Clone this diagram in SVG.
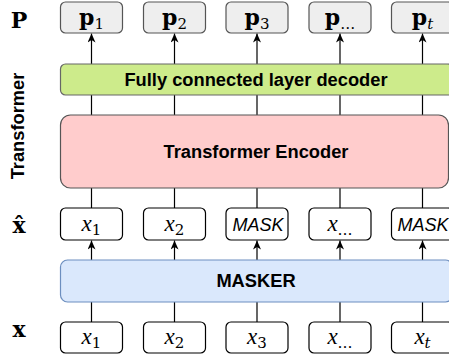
<svg xmlns="http://www.w3.org/2000/svg" width="449" height="358" viewBox="0 0 449 358">
<defs>
<style>
.pbox{fill:#eeeeee;stroke:#555555;stroke-width:1.2}
.xbox{fill:#ffffff;stroke:#000000;stroke-width:1.2}
.bar{stroke-width:1.2}
.bold{font-family:"Liberation Sans",Arial,sans-serif;font-weight:bold;font-size:18.3px;fill:#000;text-anchor:middle}
.math{font-family:"DejaVu Serif","Liberation Serif",serif;font-size:22px;fill:#000;text-anchor:middle}
.mb{font-weight:bold}
.mi{font-family:"Liberation Serif","DejaVu Serif",serif;font-style:italic;font-size:23px}
.sub{font-family:"DejaVu Serif","Liberation Serif",serif;font-style:normal;font-weight:normal;font-size:15px}
.mask{font-family:"Liberation Sans",Arial,sans-serif;font-style:italic;font-size:18px;fill:#000;text-anchor:middle}
.conn line{stroke:#000;stroke-width:1.2}
</style>
<marker id="arr" markerUnits="userSpaceOnUse" markerWidth="10" markerHeight="10" refX="9" refY="4" orient="auto">
<path d="M0,0 L9,4 L0,8 L2.5,4 Z" fill="#000"/>
</marker>
</defs>
<rect width="449" height="358" fill="#ffffff"/>

<g id="labels">
<text class="math mb" x="19" y="28" font-size="23">P</text>
<text class="bold" transform="translate(24,126) rotate(-90)" font-size="17.5">Transformer</text>
<text class="math mb" x="19" y="233">x̂</text>
<text class="math mb" x="19" y="337">x</text>
</g>

<g id="connectors" class="conn">
<line x1="91.5" y1="64" x2="91.5" y2="33.5" marker-end="url(#arr)"/>
<line x1="174.5" y1="64" x2="174.5" y2="33.5" marker-end="url(#arr)"/>
<line x1="257" y1="64" x2="257" y2="33.5" marker-end="url(#arr)"/>
<line x1="340" y1="64" x2="340" y2="33.5" marker-end="url(#arr)"/>
<line x1="422.5" y1="64" x2="422.5" y2="33.5" marker-end="url(#arr)"/>
<line x1="91.5" y1="115" x2="91.5" y2="95"/>
<line x1="174.5" y1="115" x2="174.5" y2="95"/>
<line x1="257" y1="115" x2="257" y2="95"/>
<line x1="340" y1="115" x2="340" y2="95"/>
<line x1="422.5" y1="115" x2="422.5" y2="95"/>
<line x1="91.5" y1="208" x2="91.5" y2="188"/>
<line x1="174.5" y1="208" x2="174.5" y2="188"/>
<line x1="257" y1="208" x2="257" y2="188"/>
<line x1="340" y1="208" x2="340" y2="188"/>
<line x1="422.5" y1="208" x2="422.5" y2="188"/>
<line x1="91.5" y1="260" x2="91.5" y2="240.5" marker-end="url(#arr)"/>
<line x1="174.5" y1="260" x2="174.5" y2="240.5" marker-end="url(#arr)"/>
<line x1="257" y1="260" x2="257" y2="240.5" marker-end="url(#arr)"/>
<line x1="340" y1="260" x2="340" y2="240.5" marker-end="url(#arr)"/>
<line x1="422.5" y1="260" x2="422.5" y2="240.5" marker-end="url(#arr)"/>
<line x1="91.5" y1="322" x2="91.5" y2="302"/>
<line x1="174.5" y1="322" x2="174.5" y2="302"/>
<line x1="257" y1="322" x2="257" y2="302"/>
<line x1="340" y1="322" x2="340" y2="302"/>
<line x1="422.5" y1="322" x2="422.5" y2="302"/>
</g>

<g id="p1"><rect class="pbox" x="60.5" y="2" width="62" height="31" rx="5"/><text class="math mb" x="91.5" y="25">p<tspan class="sub" dy="4">1</tspan></text></g>
<g id="p2"><rect class="pbox" x="143.5" y="2" width="62" height="31" rx="5"/><text class="math mb" x="174.5" y="25">p<tspan class="sub" dy="4">2</tspan></text></g>
<g id="p3"><rect class="pbox" x="226" y="2" width="62" height="31" rx="5"/><text class="math mb" x="257" y="25">p<tspan class="sub" dy="4">3</tspan></text></g>
<g id="pdots"><rect class="pbox" x="309" y="2" width="62" height="31" rx="5"/><text class="math mb" x="340" y="25">p<tspan class="sub" dy="4">…</tspan></text></g>
<g id="pt"><rect class="pbox" x="391.5" y="2" width="62" height="31" rx="5"/><text class="math mb" x="422.5" y="25">p<tspan class="sub" dy="4" style="font-style:italic">t</tspan></text></g>

<g id="decoder"><rect class="bar" x="60.5" y="64" width="392" height="31" rx="5" fill="#cdeb8b" stroke="#666666"/><text class="bold" x="256" y="86">Fully connected layer decoder</text></g>
<g id="encoder"><rect class="bar" x="60.5" y="115" width="388" height="73" rx="10" fill="#ffcccc" stroke="#555555"/><text class="bold" x="256" y="158">Transformer Encoder</text></g>

<g id="xh1"><rect class="xbox" x="60.5" y="208" width="62" height="32" rx="5"/><text class="math mi" x="91.5" y="231">x<tspan class="sub" dy="4">1</tspan></text></g>
<g id="xh2"><rect class="xbox" x="143.5" y="208" width="62" height="32" rx="5"/><text class="math mi" x="174.5" y="231">x<tspan class="sub" dy="4">2</tspan></text></g>
<g id="xh3"><rect class="xbox" x="226" y="208" width="62" height="32" rx="5"/><text class="mask" x="258" y="231">MASK</text></g>
<g id="xh4"><rect class="xbox" x="309" y="208" width="62" height="32" rx="5"/><text class="math mi" x="340" y="231">x<tspan class="sub" dy="4">…</tspan></text></g>
<g id="xh5"><rect class="xbox" x="391.5" y="208" width="62" height="32" rx="5"/><text class="mask" x="423" y="231">MASK</text></g>

<g id="masker"><rect class="bar" x="60.5" y="260" width="392" height="42" rx="7" fill="#dae8fc" stroke="#6c8ebf"/><text class="bold" x="256" y="287">MASKER</text></g>

<g id="x1"><rect class="xbox" x="60.5" y="322" width="62" height="31" rx="5"/><text class="math mi" x="91.5" y="344">x<tspan class="sub" dy="4">1</tspan></text></g>
<g id="x2"><rect class="xbox" x="143.5" y="322" width="62" height="31" rx="5"/><text class="math mi" x="174.5" y="344">x<tspan class="sub" dy="4">2</tspan></text></g>
<g id="x3"><rect class="xbox" x="226" y="322" width="62" height="31" rx="5"/><text class="math mi" x="257" y="344">x<tspan class="sub" dy="4">3</tspan></text></g>
<g id="x4"><rect class="xbox" x="309" y="322" width="62" height="31" rx="5"/><text class="math mi" x="340" y="344">x<tspan class="sub" dy="4">…</tspan></text></g>
<g id="x5"><rect class="xbox" x="391.5" y="322" width="62" height="31" rx="5"/><text class="math mi" x="422.5" y="344">x<tspan class="sub" dy="4" style="font-style:italic">t</tspan></text></g>
</svg>
